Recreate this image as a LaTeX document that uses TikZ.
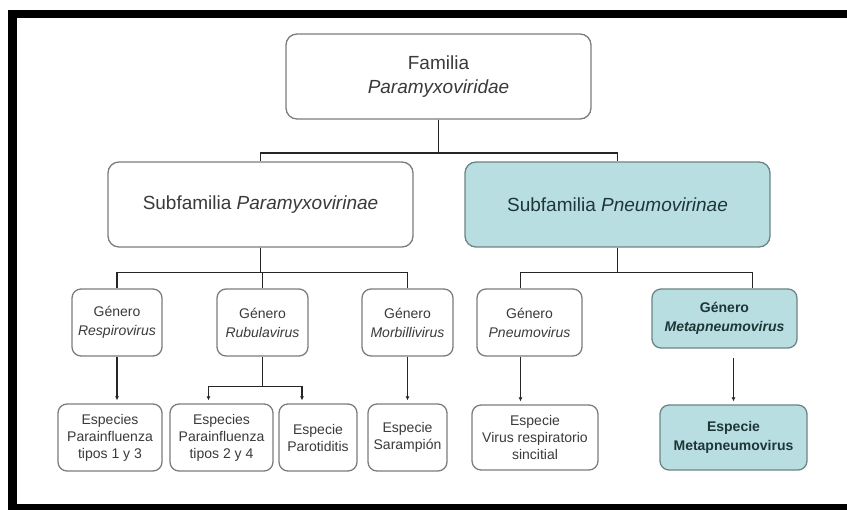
\documentclass[tikz,border=0pt]{standalone}
\usepackage{fontspec}
\setmainfont{Liberation Sans}
\usetikzlibrary{arrows.meta}
\definecolor{boxgray}{HTML}{7C7C7C}
\definecolor{txtgray}{HTML}{3A3A3A}
\definecolor{pneumofill}{HTML}{B8DEE2}
\definecolor{pneumoline}{HTML}{6C8486}
\definecolor{pneumotxt}{HTML}{1E3638}
\tikzset{
  taxon/.style={draw=boxgray, line width=1.3pt, rounded corners=11pt, fill=white,
    text=txtgray, align=center, inner sep=0pt},
  bigtaxon/.style={taxon, minimum width=305pt, minimum height=85pt,
    font=\fontsize{19}{24}\selectfont},
  genustaxon/.style={taxon, rounded corners=9pt, minimum height=67pt,
    font=\fontsize{14}{19}\selectfont},
  speciestaxon/.style={taxon, rounded corners=9pt, minimum height=67pt,
    font=\fontsize{14}{17}\selectfont},
  pneumo/.style={fill=pneumofill, draw=pneumoline, text=pneumotxt},
  link/.style={draw=black!85, line width=1.3pt},
  arrowlink/.style={link, -{Latex[length=4pt,width=4pt]}, shorten >=3pt},
}

\begin{document}
\begin{tikzpicture}[x=1pt,y=-1pt]
  \useasboundingbox (0,0) rectangle (847,510);
  \fill (8,10) rectangle (847,18);
  \fill (8,10) rectangle (17,510);
  \fill (8,504) rectangle (847,510);

  \node[bigtaxon] (fam) at (438.5,76.5) {Familia\\\textit{Paramyxoviridae}};
  \node[bigtaxon] (subpara) at (260.5,204.5) {Subfamilia \textit{Paramyxovirinae}};
  \node[bigtaxon,pneumo] (subpneu) at (617.5,204.5) {Subfamilia \textit{Pneumovirinae}};

  \node[genustaxon,minimum width=90pt] (gresp) at (117,322.5) {Género\\\textit{Respirovirus}};
  \node[genustaxon,minimum width=91pt] (grubu) at (262.5,322.5) {Género\\\textit{Rubulavirus}};
  \node[genustaxon,minimum width=91pt] (gmorb) at (407.5,322.5) {Género\\\textit{Morbillivirus}};
  \node[genustaxon,minimum width=105pt] (gpneu) at (529.5,322.5) {Género\\\textit{Pneumovirus}};
  \node[genustaxon,pneumo,minimum width=145pt,minimum height=59pt,
    font=\bfseries\fontsize{14}{19}\selectfont] (gmeta) at (724.5,318.5) {Género\\\textit{Metapneumovirus}};

  \node[speciestaxon,minimum width=104pt] (sp13) at (110,437.5) {Especies\\Parainfluenza\\tipos 1 y 3};
  \node[speciestaxon,minimum width=103pt] (sp24) at (221.5,437.5) {Especies\\Parainfluenza\\tipos 2 y 4};
  \node[speciestaxon,minimum width=78pt] (sparo) at (318,437.5) {Especie\\Parotiditis};
  \node[speciestaxon,minimum width=79pt] (ssara) at (407.5,437.5) {Especie\\Sarampión};
  \node[speciestaxon,minimum width=126pt,minimum height=65pt] (svrs) at (535,437.5) {Especie\\Virus respiratorio\\sincitial};
  \node[speciestaxon,pneumo,minimum width=147pt,minimum height=65pt,
    font=\bfseries\fontsize{14}{19}\selectfont] (smeta) at (733.5,437.5) {Especie\\Metapneumovirus};

  \draw[link,line width=1.8pt] (fam.south) -- ++(0,33) -| (subpara.north);
  \draw[link,line width=1.8pt] (fam.south) -- ++(0,33) -| (subpneu.north);

  \draw[link] (subpara.south) -- ++(0,25) -| (gresp.north);
  \draw[link] (subpara.south) -- ++(0,25) -| (grubu.north);
  \draw[link] (subpara.south) -- ++(0,25) -| (gmorb.north);
  \draw[link] (subpneu.south) -- ++(0,25) -| ([xshift=-9pt]gpneu.north);
  \draw[link] (subpneu.south) -- ++(0,25) -| ([xshift=28pt]gmeta.north);

  \draw[arrowlink] (gresp.south) -- (gresp.south |- sp13.north);
  \draw[link] (grubu.south) -- ++(0,30) coordinate (rubjoin);
  \draw[arrowlink] (rubjoin) -| ([xshift=-13pt]sp24.north);
  \draw[arrowlink] (rubjoin) -| ([xshift=-16pt]sparo.north);
  \draw[arrowlink] (gmorb.south) -- (gmorb.south |- ssara.north);
  \draw[arrowlink] ([xshift=-9pt]gpneu.south) -- ([xshift=-9pt]gpneu.south |- svrs.north);
  \draw[arrowlink] ([yshift=-9pt]gmeta.south -| smeta.north) -- (smeta.north);
\end{tikzpicture}
\end{document}
